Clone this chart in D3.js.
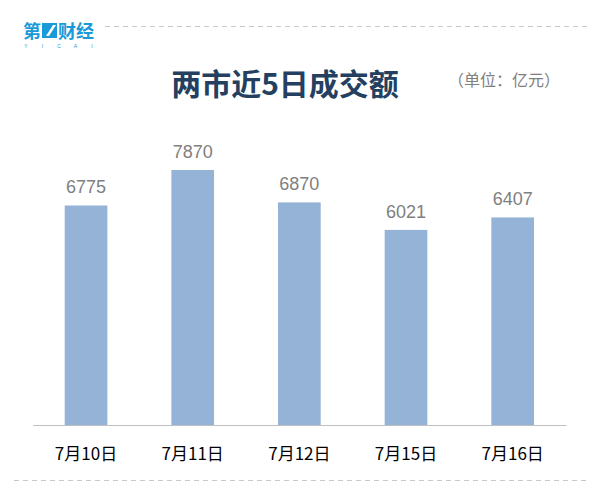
<!DOCTYPE html>
<html>
<head>
<meta charset="utf-8">
<script src="https://cdn.jsdelivr.net/npm/d3@7/dist/d3.min.js"></script>
<style>
html,body{margin:0;padding:0;background:#fff;}
svg{display:block;}
</style>
</head>
<body>
<svg id="chart" width="609" height="501"></svg>
<script>
const categories = ["7月10日", "7月11日", "7月12日", "7月15日", "7月16日"];
const values = [6775, 7870, 6870, 6021, 6407];
const titleText = "两市近5日成交额";
const unitText = "（单位：亿元）";

const svg = d3.select("#chart");
const cjk = "'Noto Sans CJK SC', 'Noto Sans', sans-serif";
const latin = "'Liberation Sans', Arial, sans-serif";

// header dashed line
svg.append("line").attr("x1", 105).attr("x2", 588).attr("y1", 26.5).attr("y2", 26.5)
  .attr("stroke", "#c8c8c8").attr("stroke-width", 1).attr("stroke-dasharray", "5,4");
// bottom dashed line
svg.append("line").attr("x1", 14).attr("x2", 588).attr("y1", 480.5).attr("y2", 480.5)
  .attr("stroke", "#c8c8c8").attr("stroke-width", 1).attr("stroke-dasharray", "5,4");

// logo
const logo = svg.append("g").attr("transform", "translate(23,0)");
logo.append("text").attr("x", 0).attr("y", 38).text("第")
  .attr("font-family", cjk).attr("font-weight", "bold").attr("font-size", 18).attr("fill", "#1b9ad8");
logo.append("rect").attr("x", 19).attr("y", 23).attr("width", 15).attr("height", 15).attr("fill", "#1b9ad8");
logo.append("path").attr("d", "M23,36 L30,25 L33,25 L26,36 Z").attr("fill", "#fff");
logo.append("text").attr("x", 35).attr("y", 38).text("财经")
  .attr("font-family", cjk).attr("font-weight", "bold").attr("font-size", 18).attr("fill", "#1b9ad8");
const yicai = ["Y","I","C","A","I"];
yicai.forEach((c,i)=>{
  logo.append("text").attr("x", 3 + i*16.5).attr("y", 48).text(c)
    .attr("font-family", latin).attr("font-size", 5).attr("fill", "#1b9ad8").attr("text-anchor","middle");
});

// title
svg.append("text").attr("x", 285).attr("y", 95).attr("text-anchor", "middle")
  .attr("font-family", cjk).attr("font-weight", "bold").attr("font-size", 30)
  .attr("fill", "#243f60").text(titleText);
svg.append("text").attr("x", 448).attr("y", 86)
  .attr("font-family", cjk).attr("font-size", 16)
  .attr("fill", "#808080").text(unitText);

// scales
const x = d3.scaleBand().domain(categories).range([32.7, 566]).paddingInner(0.6).paddingOuter(0.3);
const y = d3.scaleLinear().domain([0, 9000]).range([425, 133.4]);

// bars
svg.append("g").selectAll("rect").data(values).join("rect")
  .attr("x", (d,i)=>x(categories[i]))
  .attr("y", d=>y(d))
  .attr("width", x.bandwidth())
  .attr("height", d=>y(0)-y(d))
  .attr("fill", "#95b3d7");

// value labels
svg.append("g").selectAll("text").data(values).join("text")
  .attr("x", (d,i)=>x(categories[i]) + x.bandwidth()/2)
  .attr("y", d=>y(d) - 12)
  .attr("text-anchor", "middle")
  .attr("font-family", latin).attr("font-size", 18)
  .attr("fill", "#7f7f7f").text(d=>d);

// x axis
const xAxis = d3.axisBottom(x).tickSize(0).tickPadding(0);
const ax = svg.append("g").attr("transform", `translate(0,${y(0)})`).call(xAxis);
ax.select(".domain").attr("stroke", "#bfbfbf").attr("stroke-width", 1.2);
ax.selectAll(".tick text").attr("font-family", cjk).attr("font-size", 17)
  .attr("fill", "#000").attr("dy", null).attr("y", 35);
</script>
</body>
</html>
